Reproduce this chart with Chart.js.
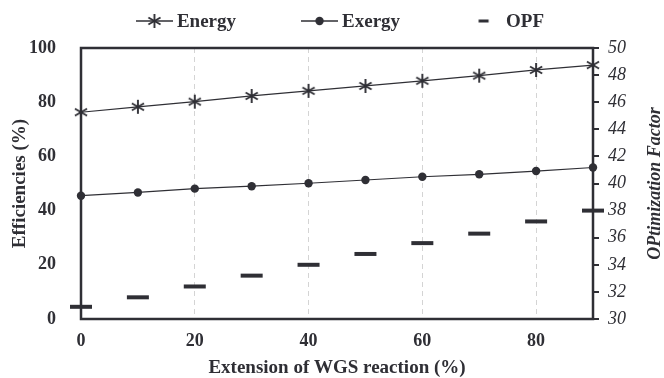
<!DOCTYPE html>
<html>
<head>
<meta charset="utf-8">
<script src="https://cdn.jsdelivr.net/npm/chart.js@4/dist/chart.umd.min.js"></script>
<style>
  html, body { margin: 0; padding: 0; background: #fff; }
  #wrap { width: 664px; height: 378px; }
</style>
</head>
<body>
<div id="wrap"><canvas id="chart" width="664" height="378"></canvas></div>
<script>
// data
const extension = [0, 10, 20, 30, 40, 50, 60, 70, 80, 90];
const energy = [76.3, 78.3, 80.2, 82.3, 84.2, 86.0, 87.9, 89.8, 91.9, 93.7];
const exergy = [45.5, 46.7, 48.1, 49.0, 50.1, 51.3, 52.5, 53.4, 54.6, 55.9];
const opf = [30.9, 31.6, 32.4, 33.2, 34.0, 34.8, 35.6, 36.3, 37.2, 38.0];
const xTicks = [0, 20, 40, 60, 80];
const rightTitle = "OPtimization Factor";

const ink = "#2f2f35";
const serif = "'Liberation Serif', 'Times New Roman', serif";

// six spoke asterisk used for the Energy points
function asterisk(w, h, withLine) {
  const c = document.createElement("canvas");
  c.width = w; c.height = h;
  const g = c.getContext("2d");
  const cx = w / 2, cy = h / 2, r = 7;
  g.strokeStyle = ink;
  if (withLine) {
    g.lineWidth = 1.3;
    g.beginPath(); g.moveTo(0, cy); g.lineTo(w, cy); g.stroke();
  }
  g.lineWidth = 1.9;
  for (let a = 90; a < 270; a += 60) {
    const rad = a * Math.PI / 180;
    g.beginPath();
    g.moveTo(cx - Math.cos(rad) * r, cy - Math.sin(rad) * r);
    g.lineTo(cx + Math.cos(rad) * r, cy + Math.sin(rad) * r);
    g.stroke();
  }
  return c;
}

function dotLine(w, h) {
  const c = document.createElement("canvas");
  c.width = w; c.height = h;
  const g = c.getContext("2d");
  g.strokeStyle = ink; g.fillStyle = ink; g.lineWidth = 1.3;
  g.beginPath(); g.moveTo(0, h / 2); g.lineTo(w, h / 2); g.stroke();
  g.beginPath(); g.arc(w / 2, h / 2, 4.2, 0, Math.PI * 2); g.fill();
  return c;
}

function dash(w, h) {
  const c = document.createElement("canvas");
  c.width = w; c.height = h;
  const g = c.getContext("2d");
  g.fillStyle = ink;
  g.fillRect(w / 2 - 5, h / 2 - 1.5, 10, 3);
  return c;
}

const legendItems = [
  { label: "Energy", img: asterisk(37, 16, true) },
  { label: "Exergy", img: dotLine(37, 16) },
  { label: "OPF", img: dash(37, 16) }
];

// plot frame around the chart area
const framePlugin = {
  id: "frame",
  beforeDatasetsDraw(chart) {
    const { ctx, chartArea: a } = chart;
    ctx.save();
    ctx.strokeStyle = ink;
    ctx.lineWidth = 2.5;
    ctx.strokeRect(a.left, a.top, a.right - a.left, a.bottom - a.top);
    ctx.restore();
  }
};

// legend row at the top + right axis title (reads bottom to top)
const textPlugin = {
  id: "texts",
  afterDraw(chart) {
    const ctx = chart.ctx;
    ctx.save();
    ctx.font = "bold 19px " + serif;
    ctx.fillStyle = ink;
    ctx.textBaseline = "middle";
    const gapText = 4, gapItem = 65;
    let total = 0;
    legendItems.forEach((it, i) => {
      it.tw = ctx.measureText(it.label).width;
      total += it.img.width + gapText + it.tw + (i ? gapItem : 0);
    });
    let x = 340 - total / 2;
    const y = 21;
    legendItems.forEach(it => {
      ctx.drawImage(it.img, x, y - it.img.height / 2);
      x += it.img.width + gapText;
      ctx.fillText(it.label, x, y + 1);
      x += it.tw + gapItem;
    });

    const a = chart.chartArea;
    ctx.translate(655, (a.top + a.bottom) / 2);
    ctx.rotate(-Math.PI / 2);
    ctx.textAlign = "center";
    ctx.font = "italic bold 18px " + serif;
    ctx.fillText(rightTitle, 0, 0);
    ctx.restore();
  }
};

const pts = vals => extension.map((x, i) => ({ x: x, y: vals[i] }));

new Chart(document.getElementById("chart").getContext("2d"), {
  type: "line",
  data: {
    datasets: [
      {
        label: "Energy",
        data: pts(energy),
        yAxisID: "y",
        borderColor: ink,
        borderWidth: 1.2,
        pointStyle: asterisk(16, 16, false),
        pointRadius: 7,
        clip: false
      },
      {
        label: "Exergy",
        data: pts(exergy),
        yAxisID: "y",
        borderColor: ink,
        backgroundColor: ink,
        borderWidth: 1.2,
        pointStyle: "circle",
        pointRadius: 4.2,
        pointBorderWidth: 0,
        clip: false
      },
      {
        label: "OPF",
        data: pts(opf),
        yAxisID: "y2",
        showLine: false,
        borderColor: ink,
        pointStyle: "line",
        pointRadius: 11,
        pointBorderWidth: 4,
        clip: false
      }
    ]
  },
  options: {
    responsive: false,
    animation: false,
    devicePixelRatio: 1,
    layout: { padding: { top: 48 } },
    plugins: { legend: { display: false }, tooltip: { enabled: false } },
    scales: {
      x: {
        type: "linear",
        min: 0,
        max: 90,
        afterBuildTicks: s => { s.ticks = xTicks.map(v => ({ value: v })); },
        afterFit: s => { s.height = 59; },
        border: { display: false, dash: [5, 4] },
        grid: {
          color: c => (c.tick && c.tick.value > 0 ? "#d4d4d4" : "rgba(0,0,0,0)"),
          lineWidth: 1,
          drawTicks: false
        },
        ticks: { font: { family: serif, size: 18, weight: "bold" }, color: ink, padding: 12 },
        title: {
          display: true,
          text: "Extension of WGS reaction (%)",
          font: { family: serif, size: 19, weight: "bold", lineHeight: 1 },
          color: ink,
          padding: { top: 0, bottom: 0 }
        }
      },
      y: {
        position: "left",
        min: 0,
        max: 100,
        afterBuildTicks: s => { s.ticks = [0, 20, 40, 60, 80, 100].map(v => ({ value: v })); },
        afterFit: s => { s.width = 81; },
        border: { display: false },
        grid: { display: false },
        ticks: { font: { family: serif, size: 18, weight: "bold" }, color: ink, padding: 17 },
        title: {
          display: true,
          text: "Efficiencies (%)",
          font: { family: serif, size: 19, weight: "bold", lineHeight: 1 },
          color: ink,
          padding: { top: 10.5, bottom: 0 }
        }
      },
      y2: {
        position: "right",
        min: 30,
        max: 50,
        ticks: { stepSize: 2, font: { family: serif, size: 18, style: "italic" }, color: ink, padding: 9 },
        afterFit: s => { s.width = 71; },
        border: { display: false },
        grid: { drawOnChartArea: false, drawTicks: true, tickLength: 6, color: ink, lineWidth: 2 }
      }
    }
  },
  plugins: [framePlugin, textPlugin]
});
</script>
</body>
</html>
